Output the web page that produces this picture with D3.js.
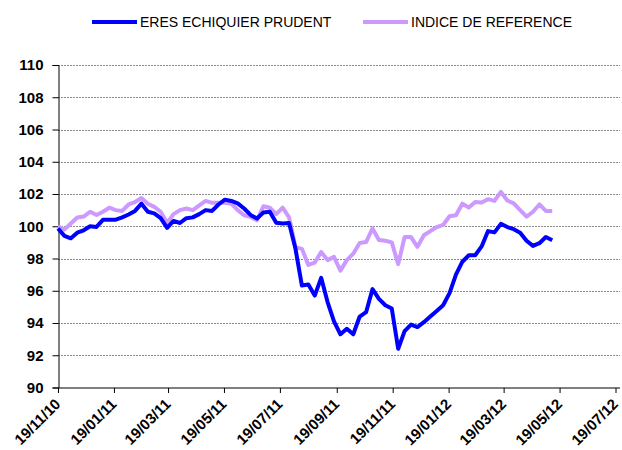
<!DOCTYPE html>
<html><head><meta charset="utf-8">
<script src="https://cdn.jsdelivr.net/npm/d3@7"></script>
<style>body{margin:0;background:#fff}svg{display:block}</style>
</head><body>
<svg id="c" width="622" height="450"></svg>
<script>
const dates = ["2010-11-19","2010-11-26","2010-12-03","2010-12-10","2010-12-17","2010-12-24","2010-12-31",
"2011-01-07","2011-01-14","2011-01-21","2011-01-28","2011-02-04","2011-02-11","2011-02-18","2011-02-25",
"2011-03-04","2011-03-11","2011-03-18","2011-03-25","2011-04-01","2011-04-08","2011-04-15","2011-04-22","2011-04-29",
"2011-05-06","2011-05-13","2011-05-20","2011-05-27","2011-06-03","2011-06-10","2011-06-17","2011-06-24",
"2011-07-01","2011-07-08","2011-07-15","2011-07-22","2011-07-29","2011-08-05","2011-08-12","2011-08-19","2011-08-26",
"2011-09-02","2011-09-09","2011-09-16","2011-09-23","2011-09-30","2011-10-07","2011-10-14","2011-10-21","2011-10-28",
"2011-11-04","2011-11-11","2011-11-18","2011-11-25","2011-12-02","2011-12-09","2011-12-16","2011-12-23","2011-12-30",
"2012-01-06","2012-01-13","2012-01-20","2012-01-27","2012-02-03","2012-02-10","2012-02-17","2012-02-24",
"2012-03-02","2012-03-09","2012-03-16","2012-03-23","2012-03-30","2012-04-06","2012-04-13","2012-04-20","2012-04-27",
"2012-05-04","2012-05-11"];
const fund = [99.86,99.4,99.25,99.6,99.75,100.0,99.96,100.4,100.41,100.41,100.55,100.73,100.95,101.4,100.9,
100.8,100.5,99.9,100.33,100.2,100.5,100.55,100.75,101.0,100.95,101.35,101.65,101.57,101.42,101.1,100.7,100.48,
100.85,100.9,100.22,100.17,100.2,98.6,96.32,96.39,95.7,96.8,95.3,94.1,93.3,93.64,93.3,94.4,94.67,96.1,
95.5,95.1,94.9,92.4,93.5,93.9,93.75,94.05,94.4,94.75,95.1,95.85,97.0,97.8,98.2,98.2,98.75,99.7,99.62,
100.15,99.95,99.82,99.6,99.1,98.78,98.95,99.33,99.13];
const bench = [100.0,99.8,100.17,100.54,100.6,100.9,100.7,100.9,101.15,101.0,100.95,101.35,101.5,101.75,101.4,
101.2,100.9,100.2,100.75,101.0,101.1,101.0,101.3,101.57,101.45,101.45,101.45,101.4,101.0,100.68,100.58,100.37,
101.24,101.15,100.75,101.15,100.55,98.7,98.6,97.6,97.75,98.4,97.9,98.1,97.25,97.9,98.3,98.96,99.02,99.86,
99.15,99.1,99.0,97.65,99.33,99.33,98.72,99.44,99.7,99.95,100.08,100.62,100.68,101.4,101.16,101.5,101.47,101.68,
101.57,102.13,101.6,101.42,101.0,100.6,100.9,101.35,100.95,100.95];
const seriesNames = ["ERES ECHIQUIER PRUDENT","INDICE DE REFERENCE"];
const yTicks = [90,92,94,96,98,100,102,104,106,108,110];
const xTickDates = ["2010-11-19","2011-01-19","2011-03-19","2011-05-19","2011-07-19","2011-09-19",
"2011-11-19","2012-01-19","2012-03-19","2012-05-19","2012-07-19"];

const parse = d3.timeParse("%Y-%m-%d");
const fmt = d3.timeFormat("%d/%m/%y");
const svg = d3.select("#c");
const L = 58, R = 615.5, T = 65, B = 387.5, GR = 620;
const x = d3.scaleTime().domain([parse(xTickDates[0]), parse(xTickDates[xTickDates.length-1])]).range([L, R]);
const y = d3.scaleLinear().domain([90,110]).range([B, T]);

// gridlines
svg.append("g").selectAll("line").data(yTicks.filter(v=>v>90)).join("line")
  .attr("x1", L).attr("x2", GR).attr("y1", d=>Math.round(y(d))+0.5).attr("y2", d=>Math.round(y(d))+0.5)
  .attr("stroke", "#8a8a8a").attr("stroke-width", 1).attr("stroke-dasharray", "2,1");

// y axis
const ya = svg.append("g").attr("transform", `translate(${L+0.5},0)`)
  .call(d3.axisLeft(y).tickValues(yTicks).tickSize(6).tickPadding(9).tickFormat(d3.format("d")));
ya.select(".domain").attr("stroke", "#000");
ya.selectAll(".tick line").attr("stroke", "#000");
ya.selectAll(".tick text").attr("font-family", "Liberation Sans, Arial, sans-serif")
  .attr("font-size", 15).attr("font-weight", "bold").attr("fill", "#000");

// x axis
const xa = svg.append("g").attr("transform", `translate(0,${B+0.5})`)
  .call(d3.axisBottom(x).tickValues(xTickDates.map(parse)).tickSize(5).tickFormat(fmt));
xa.select(".domain").attr("d", `M${L},0H${GR}`).attr("stroke", "#000");
xa.selectAll(".tick line").attr("stroke", "#000");
xa.selectAll(".tick text").attr("font-family", "Liberation Sans, Arial, sans-serif")
  .attr("font-size", 15).attr("font-weight", "bold").attr("fill", "#000")
  .attr("text-anchor", "end").attr("dy", null).attr("y", 0)
  .attr("transform", "translate(3,17) rotate(-45)");

const line = d3.line().x((d,i)=>x(parse(dates[i]))).y(d=>y(d));
svg.append("path").datum(bench).attr("d", line).attr("fill","none")
  .attr("stroke", "#cc99ff").attr("stroke-width", 4).attr("stroke-linejoin","round");
svg.append("path").datum(fund).attr("d", line).attr("fill","none")
  .attr("stroke", "#0000ff").attr("stroke-width", 4).attr("stroke-linejoin","round");

// legend
const lg = svg.append("g").attr("font-family", "Liberation Sans, Arial, sans-serif").attr("font-size", 14);
const legendItems = [{x1:92, x2:137, color:"#0000ff", name:seriesNames[0]},
                     {x1:363, x2:408, color:"#cc99ff", name:seriesNames[1]}];
legendItems.forEach(it=>{
  lg.append("line").attr("x1", it.x1).attr("x2", it.x2).attr("y1", 22).attr("y2", 22)
    .attr("stroke", it.color).attr("stroke-width", 4);
  lg.append("text").attr("x", it.x2+3).attr("y", 27).text(it.name).attr("fill","#000");
});
</script>
</body></html>
